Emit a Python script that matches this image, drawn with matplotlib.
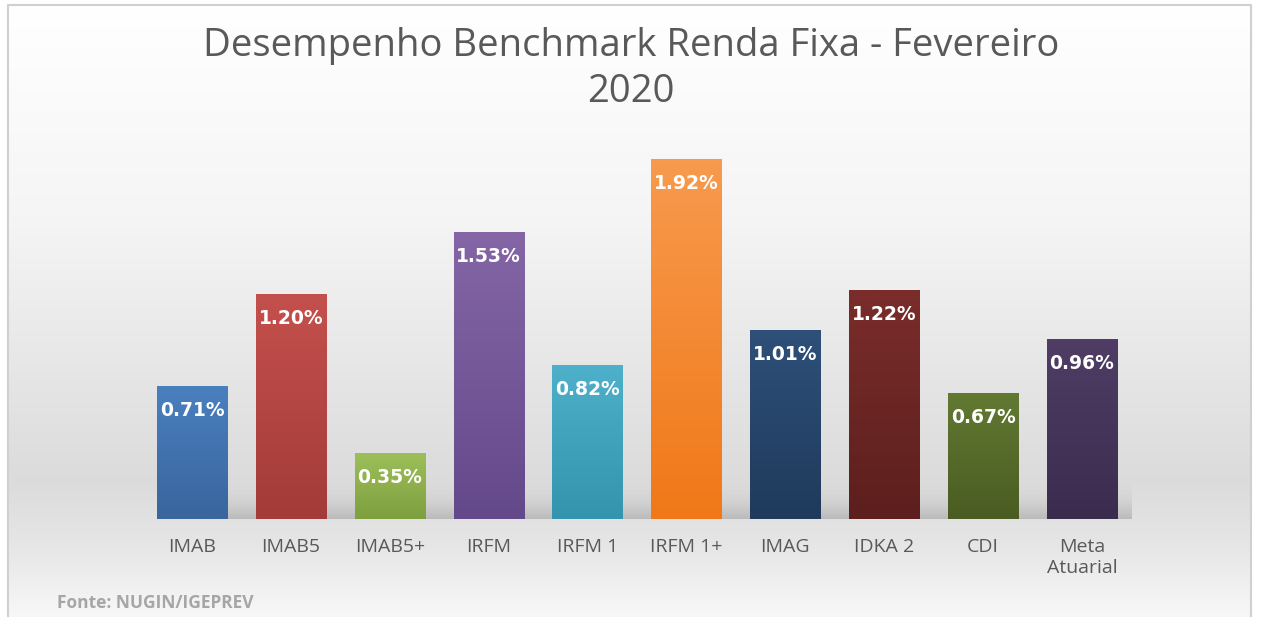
import numpy as np
import matplotlib.pyplot as plt
from matplotlib.colors import to_rgb

categories = ['IMAB', 'IMAB5', 'IMAB5+', 'IRFM', 'IRFM 1', 'IRFM 1+', 'IMAG', 'IDKA 2', 'CDI', 'Meta\nAtuarial']
values = [0.71, 1.20, 0.35, 1.53, 0.82, 1.92, 1.01, 1.22, 0.67, 0.96]
# (top colour, bottom colour) of each bar gradient
top_colors = ['#4a7fbf', '#c4504d', '#9dbf5a', '#8466a6', '#4eb0ca', '#f89a4e', '#2e5079', '#7a2d2b', '#627932', '#4f3d65']
bottom_colors = ['#3a659d', '#a33b38', '#7e9f3e', '#64498a', '#3494ad', '#f07818', '#1f3a5b', '#5c1f1d', '#4a5c22', '#3b2c4e']

W, H = 1261, 617
fig = plt.figure(figsize=(W / 100, H / 100), dpi=100)

# background with frame
bg = fig.add_axes([0, 0, 1, 1])
bg.set_xlim(0, W)
bg.set_ylim(H, 0)
bg.axis('off')
ys = np.linspace(0, 1, 300)
stops_y = [0.0, 0.35, 0.78, 0.88, 1.0]
stops_v = [1.0, 0.96, 0.86, 0.90, 0.97]
shade = np.interp(ys, stops_y, stops_v)
grad = np.repeat(shade[:, None], 2, axis=1)
bg.imshow(np.dstack([grad, grad, grad]), extent=[8, 1251, 617, 5], aspect='auto', zorder=0)
bg.plot([8, 8, 1251, 1251], [617, 5, 5, 617], color='#d0d0d0', lw=1.5, zorder=1)
bg.set_xlim(0, W)
bg.set_ylim(H, 0)

bg.text(631, 46, 'Desempenho Benchmark Renda Fixa - Fevereiro', ha='center', va='center',
        fontsize=27.5, color='#595959', family='Open Sans')
bg.text(631, 92, '2020', ha='center', va='center', fontsize=27.5, color='#595959', family='Open Sans')
bg.text(57, 603, 'Fonte: NUGIN/IGEPREV', ha='left', va='center', fontsize=12.5,
        color='#a6a6a6', family='Open Sans', fontweight='bold')

# chart area
ymax = 2.2
px_per_unit = 187
left, right, base = 142.6, 1131.4, 519
ax = fig.add_axes([left / W, (H - base) / H, (right - left) / W, ymax * px_per_unit / H])
ax.patch.set_alpha(0)
for s in ax.spines.values():
    s.set_visible(False)

x = np.arange(len(categories))

# soft shadow band behind bars
band = np.linspace(0, 1, 50)[:, None] ** 2
shadow = np.zeros((50, 2, 4))
shadow[..., :3] = 0.45
shadow[..., 3] = np.repeat(band, 2, axis=1) * 0.35
ax.imshow(shadow, extent=[-0.2, 9.5, 0, 0.22], origin='upper', aspect='auto', zorder=1)

bars = ax.bar(x, values, width=0.71, color=bottom_colors, zorder=2)
for b, c1, c2 in zip(bars, top_colors, bottom_colors):
    t = np.linspace(0, 1, 100)[:, None]
    col = (1 - t) * np.array(to_rgb(c1)) + t * np.array(to_rgb(c2))
    img = np.repeat(col[:, None, :], 2, axis=1)
    x0 = b.get_x()
    ax.imshow(img, extent=[x0, x0 + b.get_width(), 0, b.get_height()], origin='upper',
              aspect='auto', zorder=3)

for xi, v in zip(x, values):
    ax.text(xi, v - 0.128, f'{v:.2f}%', ha='center', va='center', color='white',
            fontsize=13.5, fontweight='bold', family='DejaVu Sans', zorder=4)

ax.set_xlim(-0.5, len(categories) - 0.5)
ax.set_ylim(0, ymax)
ax.set_yticks([])
ax.set_xticks(x)
ax.set_xticklabels(categories, fontsize=14, color='#595959', family='Open Sans', linespacing=1.2)
ax.tick_params(axis='x', length=0, pad=14)

fig.savefig('out.png', dpi=100)
